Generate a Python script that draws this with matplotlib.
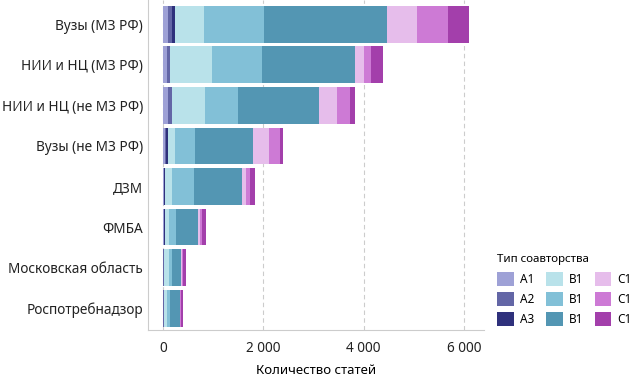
import matplotlib.pyplot as plt
from matplotlib.patches import Patch
from matplotlib.ticker import FuncFormatter

categories = ["Вузы (МЗ РФ)", "НИИ и НЦ (МЗ РФ)", "НИИ и НЦ (не МЗ РФ)", "Вузы (не МЗ РФ)",
              "ДЗМ", "ФМБА", "Московская область", "Роспотребнадзор"]

# значения по типам соавторства
A1 = [93, 73, 93, 46, 10, 10, 5, 5]
A2 = [86, 66, 86, 13, 10, 10, 5, 5]
A3 = [60, 5, 5, 33, 25, 25, 5, 5]
B1_1 = [577, 836, 657, 146, 126, 66, 110, 60]
B1_2 = [1194, 995, 657, 398, 438, 139, 60, 60]
B1_3 = [2448, 1851, 1612, 1154, 975, 438, 179, 199]
C1_1 = [597, 179, 358, 318, 80, 40, 10, 10]
C1_2 = [637, 139, 259, 219, 60, 40, 20, 15]
C1_3 = [418, 239, 100, 60, 100, 80, 60, 35]

series = [A1, A2, A3, B1_1, B1_2, B1_3, C1_1, C1_2, C1_3]
labels = ["A1", "A2", "A3", "B1", "B1", "B1", "C1", "C1", "C1"]
colors = ["#9ea1d6", "#6366a6", "#2f317c", "#b9e2ea", "#82c0d7", "#5396b3",
          "#e6bdeb", "#cd7ad5", "#a33fab"]

plt.rcParams['font.family'] = ['Noto Sans', 'DejaVu Sans']

fig = plt.figure(figsize=(6.34, 3.77), dpi=100)
ax = fig.add_axes([148 / 634, 1 - 330 / 377, (484 - 148) / 634, 330 / 377])

y = list(range(len(categories)))
left = [0] * len(categories)
for vals, col in zip(series, colors):
    ax.barh(y, vals, left=left, color=col, height=0.91, linewidth=0, zorder=3)
    left = [l + v for l, v in zip(left, vals)]

ax.set_ylim(7.54, -0.6)
ax.set_xlim(-300, 6400)
ax.set_yticks(y)
ax.set_yticklabels(categories, fontsize=9.8)
ax.set_xticks([0, 2000, 4000, 6000])
ax.xaxis.set_major_formatter(FuncFormatter(lambda v, p: f"{int(v):,}".replace(",", " ")))
ax.tick_params(axis='both', length=0, labelsize=9.8, colors="#222222")
ax.tick_params(axis='x', pad=8)
ax.grid(axis='x', color="#cccccc", linestyle=(0, (4, 3)), linewidth=0.8, zorder=0)
for s in ["top", "right"]:
    ax.spines[s].set_visible(False)
for s in ["left", "bottom"]:
    ax.spines[s].set_color("#cccccc")
ax.set_xlabel("Количество статей", fontsize=9.5, labelpad=6)

handles = [Patch(facecolor=c, edgecolor='none') for c in colors]
leg = fig.legend(handles, labels, ncol=3, loc='upper left', bbox_to_anchor=(488 / 634, 1 - 245 / 377),
                 frameon=False, title="Тип соавторства", fontsize=8.5, handlelength=1.4, handleheight=1.4,
                 handletextpad=0.5, columnspacing=1.0, labelspacing=0.55, borderpad=0.3,
                 title_fontproperties={'weight': 'bold', 'size': 8.3})
leg._legend_box.align = "left"

fig.savefig("out.png", dpi=100)
